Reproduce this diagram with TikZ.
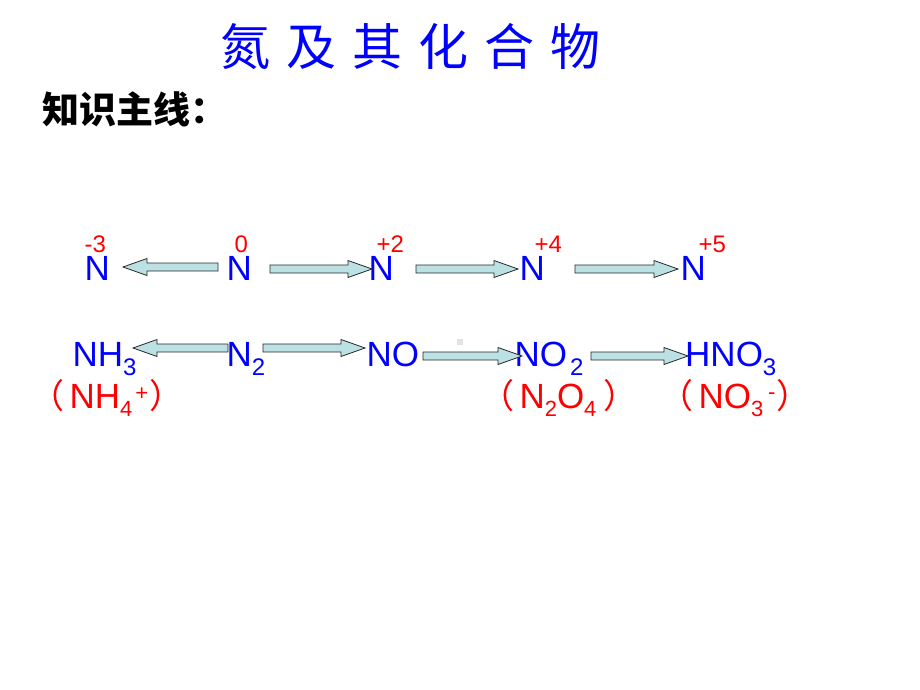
\documentclass[tikz,border=0pt]{standalone}
\usepackage{fontspec}
\setmainfont{Liberation Sans}
\newfontfamily\cjk{Noto Sans CJK SC}
\usetikzlibrary{calc}
\definecolor{tblue}{RGB}{0,0,255}
\definecolor{tred}{RGB}{255,0,0}
\definecolor{afill}{RGB}{188,225,229}
\definecolor{aline}{RGB}{40,40,40}
\newcommand\bigf{\fontsize{35}{40}\selectfont}
\newcommand\subf{\fontsize{24}{28}\selectfont}
\newcommand\rsubf{\fontsize{22}{26}\selectfont}
\newcommand\chgf{\fontsize{24}{28}\selectfont}
\newcommand\parf{\cjk\fontsize{34}{38}\selectfont}
\newcommand\lowsub[1]{\raisebox{-9pt}{\subf #1}}
\newcommand\rsub[1]{\raisebox{-8pt}{\rsubf #1}}
\newcommand\rsup[2]{\raisebox{#1}{\rsubf #2}}
\newcommand\lpar{\llap{{\parf （}\hspace{5.5pt}}}
\newcommand\rpar{{\parf ）}}
\newcommand\blockarrow[2]{%
  \draw[arrowbox] let \p1=(#1), \p2=(#2), \n1={sign(\x2-\x1)} in
    (\x1,\y1+4pt) -- (\x2-\n1*24pt,\y1+4pt) -- (\x2-\n1*24pt,\y1+8.5pt) --
    (\x2,\y1) -- (\x2-\n1*24pt,\y1-8.5pt) -- (\x2-\n1*24pt,\y1-4pt) --
    (\x1,\y1-4pt) -- cycle;}
\tikzset{
  arrowbox/.style={draw=aline, fill=afill, line width=0.8pt, line join=miter},
  formula/.style={inner sep=0pt, anchor=base west, text=tblue, font=\bigf},
  charge/.style={inner sep=0pt, anchor=base west, text=tred, font=\chgf},
  redf/.style={inner sep=0pt, anchor=base west, text=tred, font=\bigf}
}
\begin{document}
\begin{tikzpicture}[x=1pt,y=-1pt]
\useasboundingbox (0,0) rectangle (920,690);
\fill[white] (0,0) rectangle (920,690);
% title
\node[inner sep=0pt, anchor=base, text=tblue, font=\cjk\fontsize{50}{55}\selectfont] (title) at (410.5,66)
  {氮\hspace{16pt}及\hspace{16pt}其\hspace{16pt}化\hspace{16pt}合\hspace{16pt}物};
\node[inner sep=0pt, anchor=base west, font=\cjk\bfseries\fontsize{37}{40}\selectfont] (main) at (42.5,124) {知识主线：};
% row 1: oxidation states
\node[formula] (nm3) at (84.3,280) {N};
\node[charge] (cm3) at (84.5,252) {-3};
\node[formula] (n0) at (226.3,280) {N};
\node[charge] (c0) at (234.5,252) {0};
\node[formula] (np2) at (368.3,280) {N};
\node[charge] (cp2) at (376.5,252) {+2};
\node[formula] (np4) at (519.3,280) {N};
\node[charge] (cp4) at (534.5,252) {+4};
\node[formula] (np5) at (680.3,280) {N};
\node[charge] (cp5) at (698.5,252) {+5};
\coordinate (a1s) at (218,267); \coordinate (a1e) at (123,267);
\coordinate (a2s) at (270,269); \coordinate (a2e) at (372,269);
\coordinate (a3s) at (416,269); \coordinate (a3e) at (518,269);
\coordinate (a4s) at (575,269); \coordinate (a4e) at (678,269);
\blockarrow{a1s}{a1e}
\blockarrow{a2s}{a2e}
\blockarrow{a3s}{a3e}
\blockarrow{a4s}{a4e}
% row 2: substances
\node[formula] (nh3) at (72.3,366) {NH\lowsub{3}};
\node[formula] (n2) at (226.3,366) {N\lowsub{2}};
\node[formula] (no) at (366.3,366) {NO};
\node[formula] (no2) at (514.3,366) {NO\hspace{3pt}\lowsub{2}};
\node[formula] (hno3) at (685,366) {HNO\lowsub{3}};
\coordinate (b1s) at (228,348); \coordinate (b1e) at (133,348);
\coordinate (b2s) at (263,348); \coordinate (b2e) at (365,348);
\coordinate (b3s) at (423,356); \coordinate (b3e) at (522,356);
\coordinate (b4s) at (591,356); \coordinate (b4e) at (688,356);
\blockarrow{b1s}{b1e}
\blockarrow{b2s}{b2e}
\blockarrow{b3s}{b3e}
\blockarrow{b4s}{b4e}
\fill[gray!22] (457,339) rectangle (463,345);
% row 3: related species
\node[redf] (nh4) at (69.3,408) {\lpar NH\rsub{4}\hspace{3pt}\rsup{7.3pt}{+}\hspace{1.7pt}\rpar};
\node[redf] (n2o4) at (519.3,408) {\lpar N\rsub{2}O\rsub{4}\hspace{7.4pt}\rpar};
\node[redf] (no3m) at (698.3,408) {\lpar NO\rsub{3}\hspace{5pt}\rsup{9pt}{-}\hspace{1.3pt}\rpar};
\end{tikzpicture}
\end{document}
